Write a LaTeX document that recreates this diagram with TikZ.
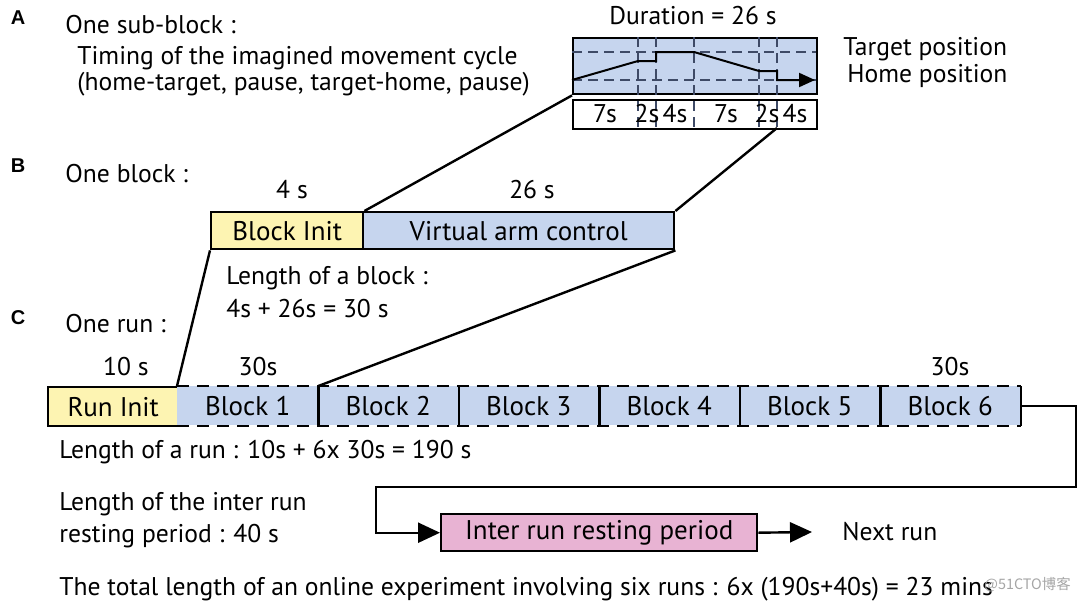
\documentclass[tikz,border=0pt]{standalone}
\usepackage{fontspec}
\setmainfont{PT Sans}
\newfontfamily\panelfont{Liberation Sans}
\newfontfamily\cjk{Noto Sans CJK SC}
\usetikzlibrary{arrows.meta}
\definecolor{armblue}{HTML}{C6D5EE}
\definecolor{inityellow}{HTML}{FDF4B2}
\definecolor{restpink}{HTML}{E8B3D3}
\definecolor{gridline}{HTML}{3E4A66}
\begin{document}
\begin{tikzpicture}[x=0.5pt, y=-0.5pt,
    txt/.style={font=\fontsize{12.8}{15}\selectfont, anchor=west, inner sep=0pt},
    ctxt/.style={font=\fontsize{12.8}{15}\selectfont, inner sep=0pt},
    panel/.style={font=\panelfont\bfseries\fontsize{10}{12}\selectfont, inner sep=0pt},
    box/.style={draw, line width=1.2pt, inner sep=0pt, font=\fontsize{13.5}{15}\selectfont},
    runblk/.style={fill=armblue, inner sep=0pt, minimum width=70.25pt, minimum height=19.5pt, font=\fontsize{13.5}{15}\selectfont},
    grid/.style={gridline, line width=0.6pt, dash pattern=on 5pt off 3pt},
    arrow/.style={-{Triangle[length=11pt,width=10pt]}, line width=1.2pt},
]
\useasboundingbox (0,0) rectangle (1080,605);

% A : one sub-block
\node[panel] (pa) at (18,18) {A};
\node[txt] (subtitle) at (65,25) {One sub-block :};
\node[txt] (timing1) at (77,58) {Timing of the imagined movement cycle};
\node[txt] (timing2) at (77,84) {(home-target, pause, target-home, pause)};
\node[ctxt] (duration) at (693,16) {Duration = 26 s};

\node[box, fill=armblue, minimum width=122pt, minimum height=28pt, anchor=north west] (subblock) at (572,37) {};
\node[box, fill=white, minimum width=122pt, minimum height=14.5pt, anchor=north west] (timebox) at (572,99) {};

\draw[grid] (572,52) -- (816,52);
\draw[grid] (572,80) -- (816,80);
\foreach \t in {638,656,694,759,777}
    \draw[grid] (\t,37) -- (\t,128);
\coordinate (tick5) at (777,128);

\draw[-{Triangle[length=8pt,width=7pt]}, line width=1pt] (572,80) -- (638,61) -- (656,61) -- (656,52) -- (694,52)
    -- (759,71) -- (777,71) -- (777,80) -- (815,80);

\foreach \x/\lab in {605/7s, 647/2s, 675/4s, 726/7s, 767/2s, 795/4s}
    \node[ctxt] at (\x,114) {\lab};

\node[txt] (target) at (843,49) {Target position};
\node[txt] (home) at (847,76) {Home position};

% B : one block
\node[panel] (pb) at (18,166) {B};
\node[txt] (blocktitle) at (65,174) {One block :};
\node[ctxt] at (292,190) {4 s};
\node[ctxt] at (532,190) {26 s};

\node[box, fill=inityellow, minimum width=76pt, minimum height=18.5pt, anchor=north west] (binit) at (210,211) {Block Init};
\node[box, fill=armblue, minimum width=155.5pt, minimum height=18.5pt, anchor=north west] (vac) at (362,211) {Virtual arm control};

\node[txt] (blen1) at (226,278) {Length of a block :};
\node[txt] (blen2) at (226,309) {4s + 26s = 30 s};

\draw[line width=1.2pt] (subblock.south west) -- (binit.north east);
\draw[line width=1.2pt] (tick5) -- (vac.north east);

% C : one run
\node[panel] (pc) at (18,318) {C};
\node[txt] (runtitle) at (65,324) {One run :};
\node[ctxt] at (126,367) {10 s};
\node[ctxt] at (258,367) {30s};
\node[ctxt] at (950,367) {30s};

\node[box, fill=inityellow, minimum width=65pt, minimum height=19.5pt, anchor=north west] (rinit) at (47,386) {Run Init};
\foreach \i in {1,...,6}
    \node[runblk, anchor=north west] (blk\i) at ({177+140.5*(\i-1)},386) {Block \i};
\draw[line width=1.2pt, dash pattern=on 6pt off 4pt] (blk1.north west) -- (blk6.north east);
\draw[line width=1.2pt, dash pattern=on 6pt off 4pt] (blk1.south west) -- (blk6.south east);
\foreach \i in {1,...,6}
    \draw[line width=1.2pt] (blk\i.north east) -- (blk\i.south east);

\draw[line width=1.2pt] (binit.south west) -- (blk1.north west);
\draw[line width=1.2pt] (vac.south east) -- (blk1.north east);

\node[txt] (runlen) at (59,452) {Length of a run : 10s + 6x 30s = 190 s};
\node[txt] (restlen1) at (59,504) {Length of the inter run};
\node[txt] (restlen2) at (59,536) {resting period : 40 s};

% Resting period
\node[box, fill=restpink, minimum width=158pt, minimum height=18.5pt, anchor=north west] (rest) at (440,513) {Inter run resting period};
\node[txt] (next) at (842,532) {Next run};
\coordinate (bend) at (376,487);
\draw[arrow] (blk6.east) -- ++(55,0) |- (bend) |- (rest.west);
\draw[arrow] (rest.east) -- ([xshift=-15pt]next.west);

\node[txt] (total) at (59,589) {The total length of an online experiment involving six runs : 6x (190s+40s) = 23 mins};
\node[anchor=west, inner sep=0pt, font=\cjk\fontsize{7.2}{9}\selectfont, gray!70] (mark) at (984,585) {@51CTO博客};

\end{tikzpicture}
\end{document}
